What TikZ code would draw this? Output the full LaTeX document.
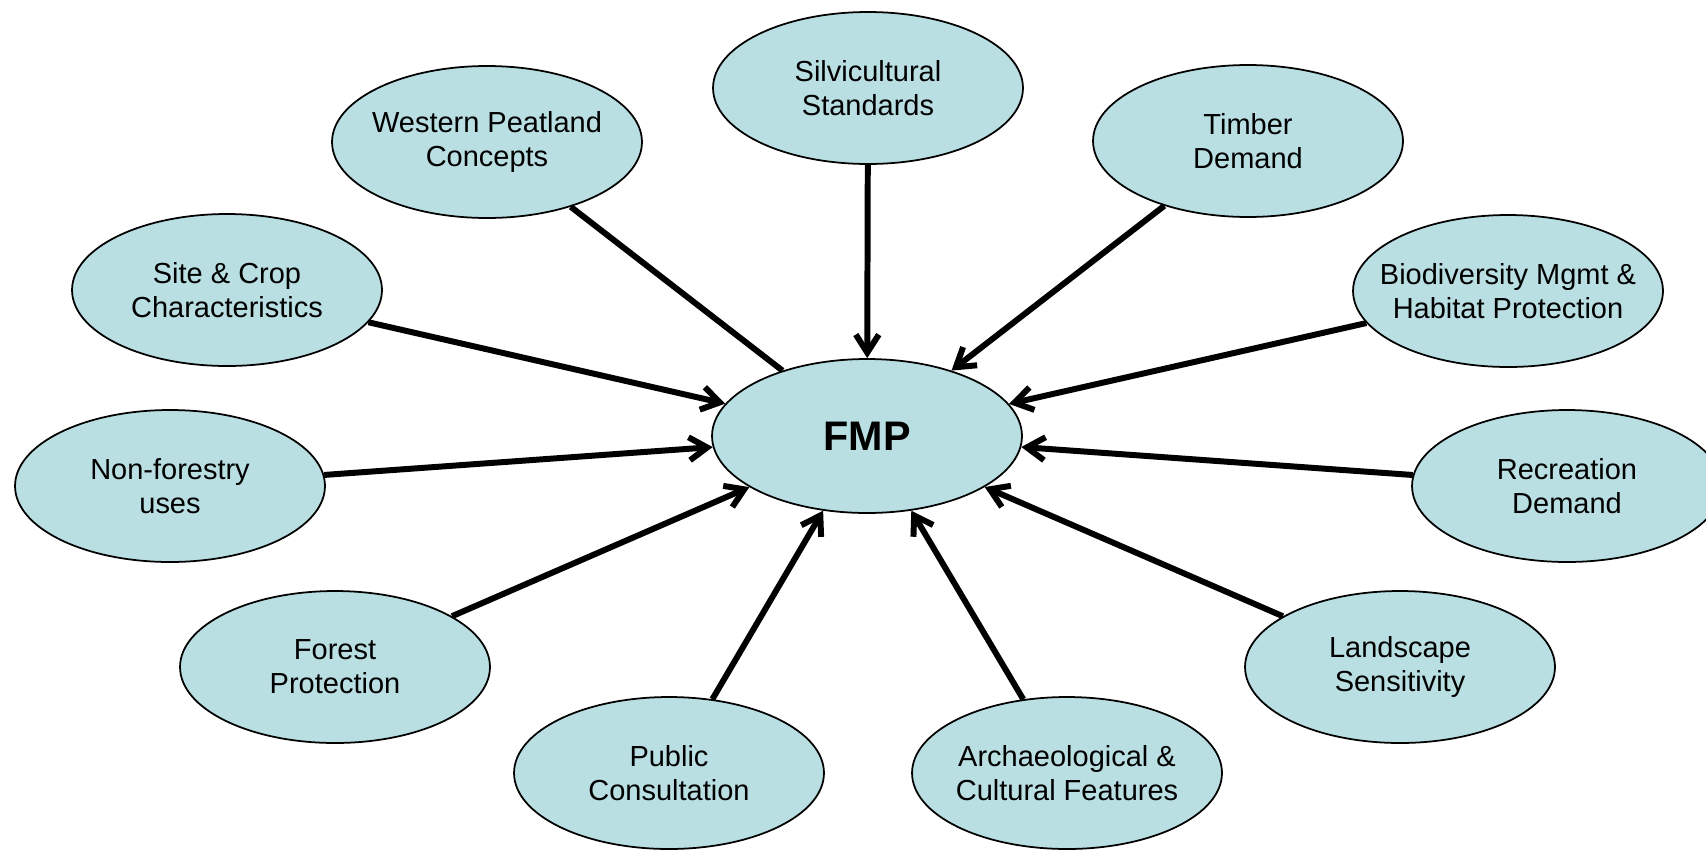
\documentclass[tikz,border=0pt]{standalone}
\usepackage{fontspec}
\setmainfont{Liberation Sans}
\usepackage{tikz}
\usetikzlibrary{arrows.meta, shapes.geometric}

\definecolor{topicblue}{RGB}{185,223,227}

\begin{document}
\begin{tikzpicture}[x=0.02cm, y=-0.02cm,
        topic/.style={ellipse, draw, line width=1pt, fill=topicblue, inner ysep=0pt, inner xsep=-0.5cm,
            minimum width=6.2cm, minimum height=3.04cm, align=center,
            font=\fontsize{16.5}{19.5}\selectfont}]
        \useasboundingbox (0, 0) rectangle (1706, 849);
        \clip (0, 0) rectangle (1706, 849);

        \node[topic, minimum height=3.08cm, font=\fontsize{23.5}{26}\selectfont\bfseries] (fmp) at (867, 436) {FMP};

        \node[topic] (silvicultural) at (868, 88) {Silvicultural\\Standards};
        \node[topic] (peatland) at (487, 142) {Western Peatland\\Concepts};
        \node[topic] (timber) at (1248, 141) {Timber\\Demand};
        \node[topic] (site) at (227, 290) {Site \& Crop\\Characteristics};
        \node[topic] (biodiversity) at (1508, 291) {Biodiversity Mgmt \&\\Habitat Protection};
        \node[topic] (nonforestry) at (170, 486) {Non-forestry\\uses};
        \node[topic] (recreation) at (1567, 486) {Recreation\\Demand};
        \node[topic] (forest) at (335, 667) {Forest\\Protection};
        \node[topic] (landscape) at (1400, 667) {Landscape\\Sensitivity};
        \node[topic] (public) at (669, 773) {Public\\Consultation};
        \node[topic] (archaeological) at (1067, 773) {Archaeological \&\\Cultural Features};

        \draw[line width=3.4pt, line join=round, >={Straight Barb[length=3.6mm, width=4.6mm]}]
              (peatland) edge (fmp)
              (silvicultural) edge[->] (fmp)
              (timber) edge[->] (fmp)
              (site) edge[->] (fmp)
              (biodiversity) edge[->] (fmp)
              (nonforestry) edge[->] (fmp)
              (recreation) edge[->] (fmp)
              (forest) edge[->] (fmp)
              (landscape) edge[->] (fmp)
              (public) edge[->] (fmp)
              (archaeological) edge[->] (fmp);
    \end{tikzpicture}
\end{document}
